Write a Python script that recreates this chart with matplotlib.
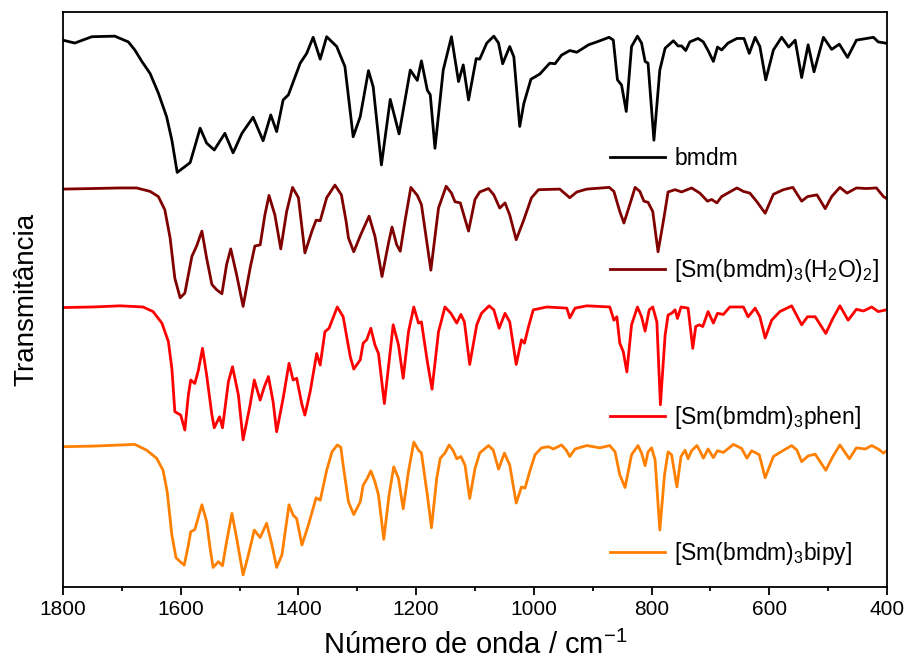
import matplotlib
matplotlib.use("Agg")
import matplotlib.pyplot as plt
from matplotlib.lines import Line2D
from matplotlib.legend import Legend

plt.rcParams['font.family'] = ['Liberation Sans', 'DejaVu Sans']
plt.rcParams['mathtext.fontset'] = 'custom'
plt.rcParams['mathtext.rm'] = 'Liberation Sans'
plt.rcParams['mathtext.it'] = 'Liberation Sans:italic'

# espectros FTIR (transmitância deslocada, unidades arbitrárias)
wn_bmdm = [1800, 1780, 1751, 1712, 1689, 1678, 1666, 1652, 1638, 1624, 1615, 1606, 1593, 1584,
           1576, 1567, 1556, 1543, 1525, 1511, 1496, 1477, 1460, 1447, 1437, 1426, 1417, 1397,
           1386, 1375, 1363, 1352, 1335, 1321, 1307, 1295, 1281, 1273, 1259, 1244, 1229, 1210,
           1198, 1191, 1181, 1176, 1168, 1154, 1140, 1128, 1120, 1111, 1098, 1092, 1080, 1068,
           1060, 1053, 1041, 1034, 1024, 1017, 1005, 990, 973, 964, 953, 939, 927, 907, 893,
           872, 865, 858, 851, 843, 834, 824, 817, 811, 806, 796, 786, 777, 763, 755, 749, 742,
           735, 721, 712, 704, 695, 688, 681, 670, 655, 643, 634, 624, 616, 606, 593, 579, 567,
           556, 545, 534, 524, 508, 494, 481, 467, 452, 423, 415, 403, 400]
t_bmdm = [95.1, 94.6, 95.7, 95.8, 94.8, 93.4, 91.4, 89.3, 85.9, 81.8, 77.7, 72.1, 73.1, 73.8,
          76.6, 79.8, 77.2, 76.0, 78.9, 75.5, 78.9, 81.7, 77.6, 82.1, 79.2, 84.7, 85.6, 91.1,
          92.8, 95.6, 91.8, 95.7, 94.0, 90.5, 78.3, 81.8, 89.8, 87.0, 73.4, 84.8, 78.8, 89.9,
          88.1, 91.5, 86.4, 85.6, 76.3, 89.9, 95.7, 87.9, 90.8, 84.7, 91.9, 91.8, 94.6, 95.8,
          94.6, 91.0, 94.0, 92.2, 80.1, 84.1, 88.3, 89.2, 91.1, 91.0, 92.5, 93.3, 93.0, 94.3, 94.8,
          95.6, 95.1, 88.2, 87.3, 82.7, 94.0, 95.8, 94.6, 91.4, 91.1, 77.7, 89.9, 93.7, 95.0, 94.1, 94.1, 93.3,
          94.8, 95.4, 94.8, 93.3, 91.4, 93.9, 93.4, 94.6, 95.4, 95.4, 92.8, 95.6, 94.0, 88.2, 93.4, 95.6, 93.9,
          95.1, 88.6, 94.3, 89.6, 95.6, 93.5, 94.4, 92.1, 95.1, 95.6, 94.8, 94.6, 94.5]

wn_h2o = [1800, 1749, 1703, 1675, 1652, 1638, 1627, 1618, 1610, 1601, 1593, 1581, 1573, 1564,
          1556, 1547, 1539, 1530, 1522, 1515, 1505, 1494, 1482, 1474, 1465, 1457, 1450, 1440,
          1430, 1420, 1410, 1400, 1389, 1377, 1370, 1363, 1352, 1338, 1327, 1319, 1315, 1306,
          1294, 1280, 1270, 1258, 1247, 1241, 1233, 1227, 1219, 1209, 1198, 1191, 1175, 1162,
          1149, 1140, 1134, 1125, 1111, 1100, 1092, 1077, 1068, 1058, 1049, 1041, 1030, 1018,
          1004, 992, 956, 939, 927, 910, 872, 864, 854, 847, 837, 828, 820, 813, 806, 798, 789,
          779, 772, 760, 749, 732, 718, 705, 698, 689, 681, 655, 644, 633, 621, 607, 593, 576,
          560, 545, 535, 519, 505, 494, 480, 468, 452, 435, 418, 406, 400]
t_h2o = [69.2, 69.3, 69.4, 69.4, 68.8, 67.9, 65.6, 60.7, 53.7, 50.3, 51.1, 57.5, 59.3, 61.9,
         57.2, 52.6, 51.7, 51.0, 56.1, 58.8, 54.3, 48.8, 55.5, 59.3, 59.5, 64.7, 68.1, 64.7,
         58.8, 65.3, 69.5, 67.7, 58.1, 61.9, 63.8, 63.7, 67.7, 69.9, 68.2, 63.6, 60.7, 58.3,
         61.3, 64.5, 61.0, 54.0, 59.8, 62.6, 59.5, 58.4, 63.6, 69.5, 68.1, 66.5, 55.1, 65.9,
         69.7, 68.5, 67.0, 66.8, 61.9, 67.4, 68.7, 69.3, 68.2, 65.9, 66.8, 64.7, 60.4, 63.6,
         67.7, 69.1, 69.2, 67.7, 68.7, 69.2, 69.5, 68.8, 65.3, 63.3, 66.5, 69.5, 68.8, 67.1, 66.9, 65.3, 58.3,
         64.2, 68.7, 69.1, 68.7, 69.4, 68.5, 67.1, 67.4, 66.8, 67.9, 69.4, 68.8, 68.5, 67.0, 65.0, 68.3, 69.1,
         69.5, 67.1, 67.9, 68.2, 65.8, 67.9, 69.5, 68.5, 69.4, 69.3, 69.4, 67.9, 67.5]

wn_phen = [1800, 1749, 1703, 1664, 1647, 1632, 1621, 1615, 1610, 1600, 1593, 1587, 1583, 1576,
           1570, 1563, 1556, 1547, 1543, 1534, 1529, 1519, 1512, 1502, 1494, 1482, 1475, 1465,
           1458, 1451, 1443, 1437, 1426, 1416, 1409, 1403, 1394, 1389, 1380, 1369, 1363, 1355,
           1348, 1334, 1324, 1312, 1306, 1295, 1290, 1284, 1277, 1270, 1264, 1254, 1246, 1239,
           1230, 1222, 1213, 1204, 1196, 1191, 1181, 1173, 1162, 1151, 1141, 1131, 1124, 1118,
           1109, 1097, 1089, 1076, 1068, 1059, 1049, 1041, 1030, 1021, 1016, 1009, 1001, 978,
           944, 939, 930, 910, 871, 864, 859, 854, 848, 842, 834, 824, 817, 811, 804, 798, 791,
           785, 777, 772, 766, 760, 756, 750, 738, 730, 725, 719, 713, 704, 695, 688, 678, 667,
           644, 636, 624, 616, 607, 596, 582, 562, 545, 535, 522, 504, 492, 480, 466, 452, 440,
           426, 415, 401]
t_phen = [48.6, 48.7, 48.9, 48.7, 47.9, 45.9, 42.7, 38.0, 30.5, 29.9, 27.3, 33.4, 36.0, 35.4,
          37.7, 41.5, 36.9, 29.9, 27.7, 29.6, 27.7, 35.7, 38.3, 33.4, 25.6, 31.7, 36.0, 32.5,
          34.8, 36.6, 32.2, 27.0, 32.8, 38.9, 36.0, 36.3, 31.7, 29.9, 34.0, 40.6, 38.6, 44.4,
          45.0, 48.7, 47.0, 40.1, 37.9, 39.5, 42.4, 43.0, 45.0, 42.1, 40.6, 31.9, 39.2, 45.6,
          42.1, 36.3, 44.4, 48.7, 45.9, 46.1, 39.2, 34.4, 44.4, 48.7, 47.6, 45.9, 47.4, 46.1,
          38.7, 45.6, 47.6, 48.9, 48.2, 45.0, 47.6, 46.1, 38.7, 43.0, 42.4, 45.3, 48.2, 48.7,
          48.5, 46.8, 48.5, 48.9, 48.7, 46.4, 47.0, 42.4, 40.9, 37.4, 45.6, 48.7, 47.0, 44.5, 48.2, 48.7, 46.1,
          31.7, 43.8, 47.3, 47.6, 48.2, 46.7, 48.7, 48.5, 41.5, 45.3, 45.6, 45.3, 47.9, 45.9, 47.6, 47.4, 48.7,
          48.7, 47.0, 48.5, 47.0, 43.3, 46.4, 47.9, 48.9, 45.6, 47.0, 47.0, 44.1, 46.7, 48.9, 46.4, 48.3, 48.0,
          48.7, 47.9, 48.2]

wn_bipy = [1800, 1749, 1703, 1678, 1658, 1641, 1630, 1623, 1615, 1608, 1602, 1594, 1587, 1583,
           1576, 1564, 1556, 1550, 1545, 1536, 1529, 1522, 1513, 1505, 1494, 1485, 1475, 1465,
           1454, 1445, 1437, 1428, 1416, 1409, 1403, 1394, 1383, 1370, 1363, 1352, 1343, 1334,
           1328, 1324, 1315, 1306, 1295, 1290, 1283, 1277, 1270, 1264, 1255, 1246, 1238, 1230,
           1222, 1213, 1204, 1196, 1191, 1181, 1174, 1165, 1159, 1151, 1144, 1137, 1131, 1124,
           1117, 1109, 1100, 1092, 1077, 1069, 1060, 1050, 1041, 1030, 1021, 1015, 1007, 998,
           987, 975, 967, 953, 945, 939, 930, 910, 888, 871, 862, 854, 845, 834, 823, 817, 811,
           806, 800, 794, 786, 778, 772, 766, 757, 750, 743, 738, 732, 723, 718, 712, 704, 695,
           688, 678, 661, 647, 638, 630, 617, 607, 593, 582, 562, 553, 545, 534, 522, 504, 492,
           480, 464, 452, 437, 426, 415, 406, 400]
t_bipy = [24.4, 24.5, 24.7, 24.8, 23.8, 22.4, 20.3, 16.6, 9.0, 5.1, 4.5, 3.8, 7.3, 9.6,
          10.0, 14.3, 11.4, 6.7, 3.4, 4.4, 3.7, 7.9, 12.8, 8.5, 2.1, 5.6, 9.9, 8.6,
          11.1, 7.3, 3.4, 5.6, 14.3, 12.5, 11.9, 7.3, 10.8, 15.5, 15.1, 20.3, 23.5, 24.7,
          24.3, 21.2, 14.8, 12.6, 14.8, 17.7, 18.9, 20.2, 18.3, 16.0, 8.3, 16.0, 20.9, 18.9,
          13.6, 20.1, 25.2, 23.8, 23.3, 16.0, 10.3, 18.9, 22.4, 23.3, 24.7, 23.7, 22.3, 22.7,
          21.2, 15.4, 20.6, 23.3, 24.6, 23.8, 20.5, 23.3, 21.2, 14.6, 17.4, 17.2, 20.1, 23.0,
          24.2, 24.4, 24.0, 24.7, 23.8, 22.7, 24.0, 24.6, 24.2, 24.6, 23.5, 19.5, 17.3, 23.0, 24.6, 23.3, 21.1,
          23.5, 24.2, 22.1, 9.9, 19.5, 23.5, 23.0, 17.4, 22.7, 23.8, 22.3, 23.7, 24.6, 23.7, 22.4, 24.0, 22.5,
          23.7, 23.4, 24.8, 24.1, 22.4, 23.7, 23.0, 19.0, 22.7, 23.4, 24.6, 23.8, 21.8, 22.8, 23.1, 20.3, 22.7,
          24.7, 22.3, 24.2, 24.0, 24.6, 24.0, 23.3, 23.7]

series = [
    (wn_bmdm, t_bmdm, '#000000', 'bmdm', 0.746),
    (wn_h2o, t_h2o, '#800000', '[Sm(bmdm)$_3$(H$_2$O)$_2$]', 0.550),
    (wn_phen, t_phen, '#FF0000', '[Sm(bmdm)$_3$phen]', 0.294),
    (wn_bipy, t_bipy, '#FF8000', '[Sm(bmdm)$_3$bipy]', 0.059),
]

fig = plt.figure(figsize=(9.1, 6.72), dpi=100)
ax = fig.add_axes([63/910, 85/672, 824/910, 575/672])

for wn, t, cor, nome, ypos in series:
    ax.plot(wn, t, color=cor, lw=2, solid_joinstyle='round')
    leg = Legend(ax, [Line2D([], [], color=cor, lw=2)], [nome],
                 loc='center left', bbox_to_anchor=(0.664, ypos), frameon=False,
                 fontsize=16.5, handlelength=2.4, handletextpad=0.4,
                 borderpad=0, borderaxespad=0)
    ax.add_artist(leg)

ax.set_xlim(1800, 400)
ax.set_ylim(0, 100)
ax.set_xticks([1800, 1600, 1400, 1200, 1000, 800, 600, 400])
ax.set_xticks(range(1700, 400, -200), minor=True)
ax.set_yticks([])
ax.tick_params(axis='x', which='major', labelsize=15, length=6, width=1.3, direction='out')
ax.tick_params(axis='x', which='minor', length=3, width=1.3, direction='out')
for s in ax.spines.values():
    s.set_linewidth(1.3)

ax.set_xlabel('Número de onda / cm$^{-1}$', fontsize=21, labelpad=8)
ax.set_ylabel('Transmitância', fontsize=20, labelpad=17)

fig.savefig('out.png', dpi=100)
